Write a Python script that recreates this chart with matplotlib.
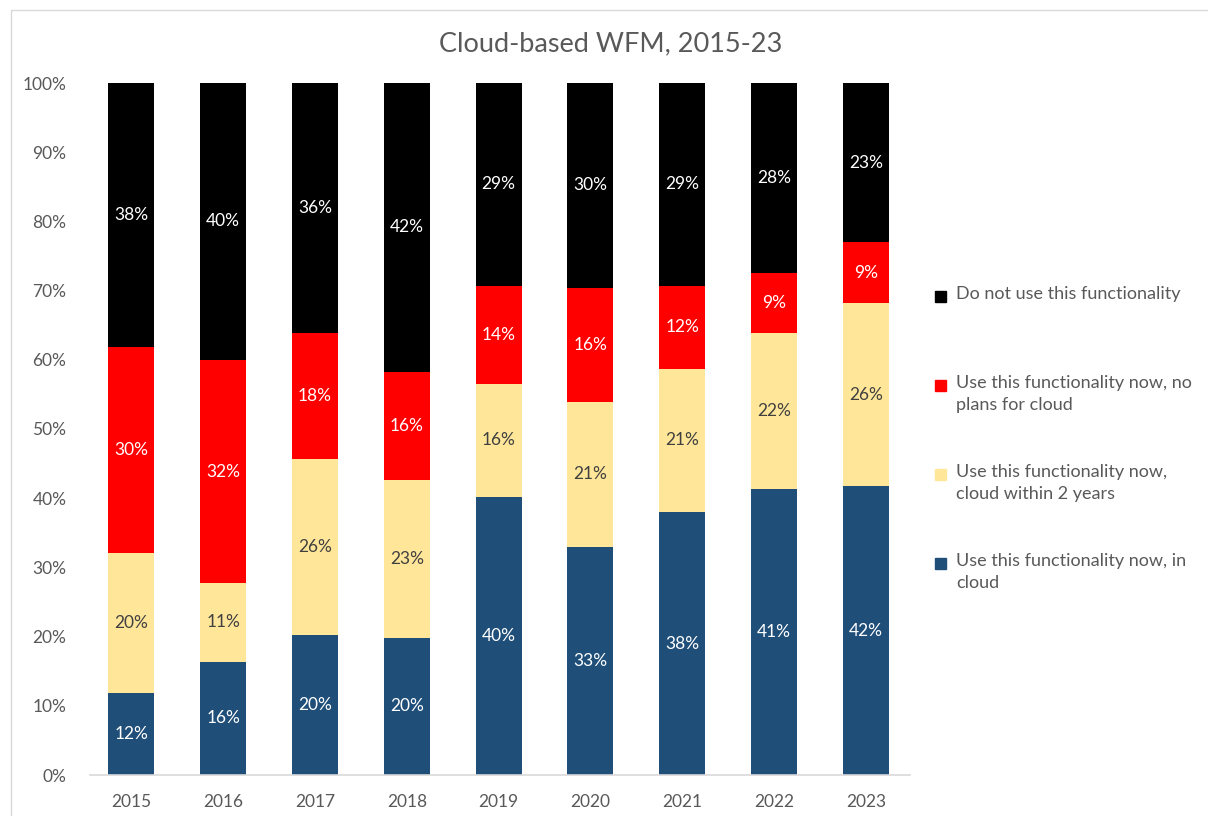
import numpy as np
import matplotlib.pyplot as plt
from matplotlib.patches import Rectangle

plt.rcParams['font.family'] = ['Lato', 'DejaVu Sans']

years = ['2015', '2016', '2017', '2018', '2019', '2020', '2021', '2022', '2023']

# stacked shares (%), bottom to top
in_cloud = [11.9, 16.4, 20.2, 19.8, 40.2, 33.0, 38.0, 41.4, 41.7]
cloud_2yrs = [20.2, 11.3, 25.5, 22.9, 16.3, 20.9, 20.7, 22.5, 26.5]
no_cloud = [29.8, 32.3, 18.2, 15.6, 14.2, 16.5, 12.0, 8.6, 8.8]
not_used = [38.1, 40.0, 36.1, 41.7, 29.3, 29.6, 29.3, 27.5, 23.0]

series_names = ['Use this functionality now, in\ncloud',
                'Use this functionality now,\ncloud within 2 years',
                'Use this functionality now, no\nplans for cloud',
                'Do not use this functionality']
series_vals = [in_cloud, cloud_2yrs, no_cloud, not_used]
colors = ['#1F4E79', '#FFE699', '#FF0000', '#000000']
label_colors = ['white', '#404040', 'white', 'white']

fig = plt.figure(figsize=(12.08, 8.16), dpi=100)
ax = fig.add_axes([90 / 1208, 1 - 775 / 816, 820 / 1208, 692 / 816])

x = np.arange(len(years))
bottom = np.zeros(len(years))
for vals, col, lc in zip(series_vals, colors, label_colors):
    vals = np.array(vals)
    bars = ax.bar(x, vals, width=0.5, bottom=bottom, color=col,
                  edgecolor='none', zorder=2)
    ax.bar_label(bars, labels=[f'{v:.0f}%' for v in vals], label_type='center',
                 color=lc, fontsize=12.5)
    bottom += vals

ax.set_xlim(-0.45, 8.48)
ax.set_ylim(0, 100)
ax.set_yticks(np.arange(0, 101, 10))
ax.set_yticklabels([f'{t}%' for t in range(0, 101, 10)])
ax.set_xticks(x)
ax.set_xticklabels(years)
ax.tick_params(axis='both', length=0, labelsize=12.5, labelcolor='#595959')
ax.tick_params(axis='y', pad=17)
ax.tick_params(axis='x', pad=14)
for s in ['top', 'right', 'left']:
    ax.spines[s].set_visible(False)
ax.spines['bottom'].set_color('#D9D9D9')
ax.spines['bottom'].set_linewidth(1.2)

fig.text(611 / 1208, 1 - 44 / 816, 'Cloud-based WFM, 2015-23', ha='center',
         va='center', fontsize=19.5, color='#595959')

# legend, top entry first
leg_y = [297, 386, 475, 564]
for yy, name, col in zip(leg_y, series_names[::-1], colors[::-1]):
    fig.patches.append(Rectangle((935 / 1208, 1 - (yy + 5) / 816), 11 / 1208, 11 / 816,
                                 transform=fig.transFigure, color=col))
    fig.text(956 / 1208, 1 - (yy - 11) / 816, name, ha='left', va='top',
             fontsize=13, color='#595959', linespacing=1.5)

# chart frame
fig.patches.append(Rectangle((11 / 1208, -0.1), 1.2, 1 - 10 / 816 + 0.1,
                             transform=fig.transFigure, fill=False,
                             edgecolor='#D9D9D9', linewidth=1))

fig.savefig('out.png', dpi=100)
